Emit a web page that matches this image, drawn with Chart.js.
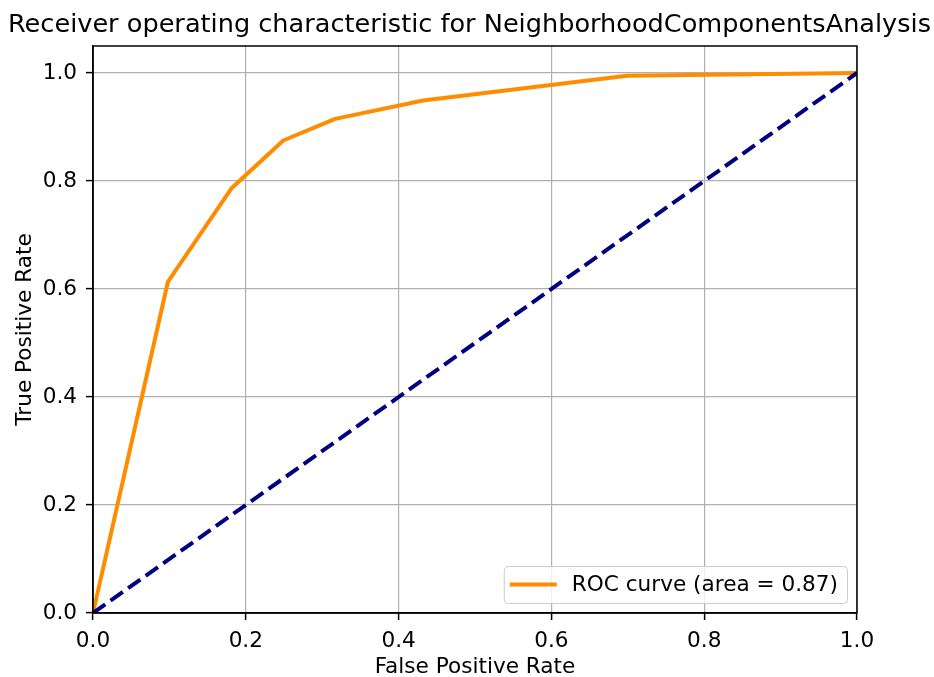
<!DOCTYPE html>
<html>
<head>
<meta charset="utf-8">
<title>ROC curve</title>
<script src="https://cdn.jsdelivr.net/npm/chart.js@4.4.0/dist/chart.umd.min.js"></script>
<style>
  html, body { margin: 0; padding: 0; background: #fff; }
  #wrap { width: 934px; height: 677px; }
</style>
</head>
<body>
<div id="wrap"><canvas id="roc" width="934" height="677"></canvas></div>
<script>
'use strict';

/*********** DATA ***********/
var chartTitle = 'Receiver operating characteristic for NeighborhoodComponentsAnalysis';
var rocArea = 0.87;
var fpr = [0.0, 0.098, 0.181, 0.249, 0.317, 0.432, 0.699, 1.0];
var tpr = [0.0, 0.613, 0.786, 0.875, 0.915, 0.949, 0.995, 1.0];
var chanceX = [0.0, 1.0];
var chanceY = [0.0, 1.0];
var xTicks = [0.0, 0.2, 0.4, 0.6, 0.8, 1.0];
var yTicks = [0.0, 0.2, 0.4, 0.6, 0.8, 1.0];

var FONT = "'DejaVu Sans', 'Liberation Sans', sans-serif";
var LABEL_SIZE = 21.6;

/*********** HELPERS ***********/
function toPoints(xs, ys) {
  var pts = [];
  for (var i = 0; i < xs.length; i++) {
    pts.push({x: xs[i], y: ys[i]});
  }
  return pts;
}

function fixedTicks(values) {
  return function(scale) {
    scale.ticks = values.map(function(v) { return {value: v}; });
  };
}

/*********** PLUGINS ***********/
// title drawn by hand so it can use the full canvas width
var plotTitle = {
  id: 'plotTitle',
  afterDraw: function(chart) {
    var ctx = chart.ctx;
    ctx.save();
    ctx.font = '25.6px ' + FONT;
    ctx.fillStyle = '#000';
    ctx.textAlign = 'center';
    ctx.textBaseline = 'alphabetic';
    ctx.fillText(chartTitle, 469.5, 32, 923);
    ctx.restore();
  }
};

// black box around the plot area
var frame = {
  id: 'frame',
  afterDatasetsDraw: function(chart) {
    var a = chart.chartArea;
    var ctx = chart.ctx;
    ctx.save();
    ctx.strokeStyle = '#000';
    ctx.lineWidth = 1.5;
    ctx.strokeRect(a.left, a.top, a.right - a.left, a.bottom - a.top);
    ctx.restore();
  }
};

// legend in the lower right corner, inside the axes
var cornerLegend = {
  id: 'cornerLegend',
  afterDraw: function(chart) {
    var a = chart.chartArea;
    var ctx = chart.ctx;
    var ds = chart.data.datasets[0];
    ctx.save();
    ctx.font = LABEL_SIZE + 'px ' + FONT;
    var textW = ctx.measureText(ds.label).width;
    var boxW = 6 + 47 + 15 + textW + 9;
    var boxH = 37;
    var x0 = a.right - 10 - boxW;
    var y0 = a.bottom - 10 - boxH;
    ctx.beginPath();
    ctx.roundRect(x0 + 0.5, y0 + 0.5, boxW, boxH, 4);
    ctx.fillStyle = 'rgba(255,255,255,0.8)';
    ctx.fill();
    ctx.strokeStyle = '#cccccc';
    ctx.lineWidth = 1;
    ctx.stroke();

    var midY = y0 + boxH / 2;
    ctx.beginPath();
    ctx.moveTo(x0 + 6, midY);
    ctx.lineTo(x0 + 53, midY);
    ctx.strokeStyle = ds.borderColor;
    ctx.lineWidth = ds.borderWidth;
    ctx.stroke();

    ctx.fillStyle = '#000';
    ctx.textAlign = 'left';
    ctx.textBaseline = 'middle';
    ctx.fillText(ds.label, x0 + 68, midY + 1);
    ctx.restore();
  }
};

/*********** CHART ***********/
var ctx = document.getElementById('roc').getContext('2d');

new Chart(ctx, {
  type: 'line',
  data: {
    datasets: [{
      label: 'ROC curve (area = ' + rocArea.toFixed(2) + ')',
      data: toPoints(fpr, tpr),
      borderColor: '#ff8c00',
      borderWidth: 4,
      borderJoinStyle: 'round',
      pointRadius: 0,
      tension: 0,
      order: 2
    }, {
      label: 'chance',
      data: toPoints(chanceX, chanceY),
      borderColor: '#000080',
      borderWidth: 4,
      borderDash: [15, 6.5],
      pointRadius: 0,
      tension: 0,
      order: 1
    }]
  },
  options: {
    responsive: false,
    animation: false,
    layout: {padding: {top: 46, right: 77, left: 0, bottom: 0}},
    plugins: {
      legend: {display: false},
      title: {display: false},
      tooltip: {enabled: false}
    },
    scales: {
      x: {
        type: 'linear',
        min: 0,
        max: 1.0,
        afterBuildTicks: fixedTicks(xTicks),
        afterFit: function(scale) { scale.height = 64; },
        grid: {color: '#b0b0b0', lineWidth: 1.2, tickColor: '#000', tickWidth: 1.5, tickLength: 7},
        border: {color: '#000', width: 1.5},
        ticks: {
          color: '#000',
          font: {family: FONT, size: LABEL_SIZE},
          padding: 8,
          maxRotation: 0,
          callback: function(v) { return v.toFixed(1); }
        },
        title: {
          display: true,
          text: 'False Positive Rate',
          color: '#000',
          font: {family: FONT, size: LABEL_SIZE},
          padding: {top: 0, bottom: -3}
        }
      },
      y: {
        type: 'linear',
        min: 0,
        max: 1.05,
        afterBuildTicks: fixedTicks(yTicks),
        afterFit: function(scale) { scale.width = 93; },
        grid: {color: '#b0b0b0', lineWidth: 1.2, tickColor: '#000', tickWidth: 1.5, tickLength: 7},
        border: {color: '#000', width: 1.5},
        ticks: {
          color: '#000',
          font: {family: FONT, size: LABEL_SIZE},
          padding: 9,
          callback: function(v) { return v.toFixed(1); }
        },
        title: {
          display: true,
          text: 'True Positive Rate',
          color: '#000',
          font: {family: FONT, size: LABEL_SIZE},
          padding: {top: 12, bottom: 0}
        }
      }
    }
  },
  plugins: [frame, cornerLegend, plotTitle]
});
</script>
</body>
</html>
